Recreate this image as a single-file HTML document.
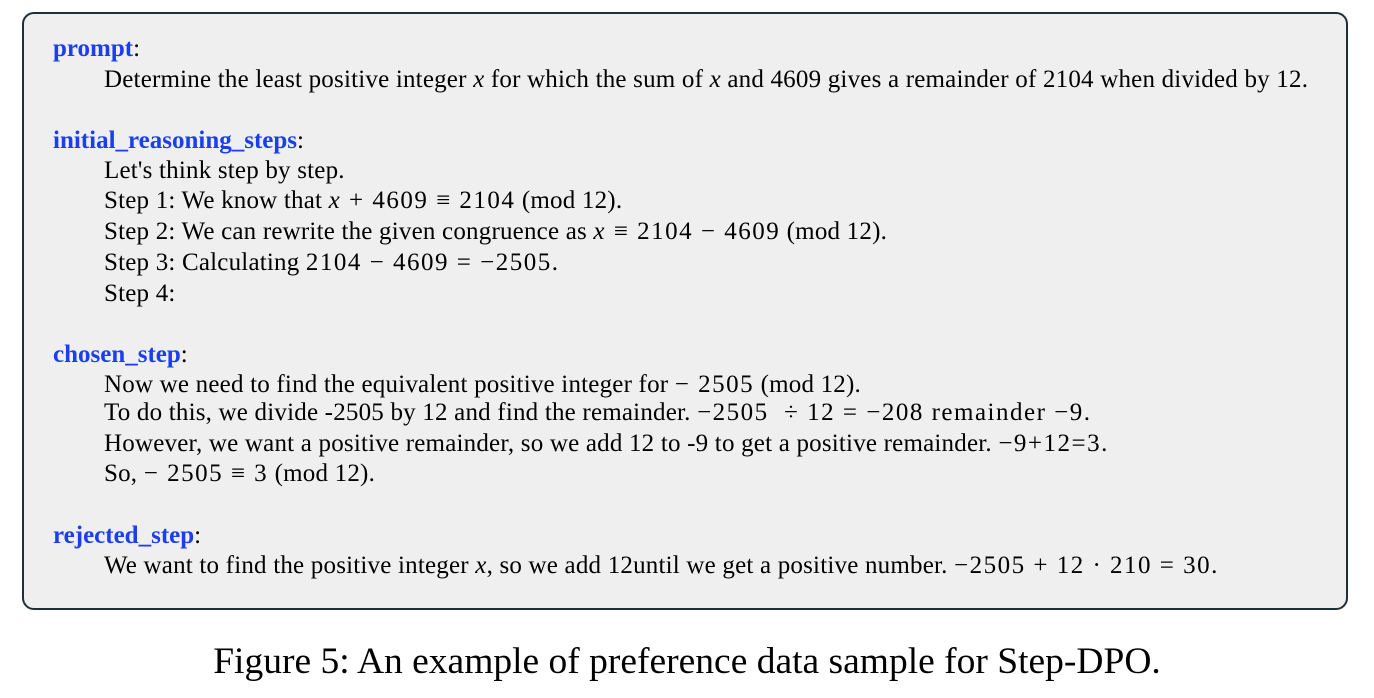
<!DOCTYPE html>
<html><head><meta charset="utf-8"><style>
body{margin:0;width:1374px;height:698px;background:#fff;position:relative;font-family:"Liberation Serif",serif;color:#000;overflow:hidden}
#box{position:absolute;left:22px;top:12px;width:1322px;height:594px;border:2px solid #1f2f3a;border-radius:12px;background:#efefef}
.l{position:absolute;font-size:25px;line-height:30px;white-space:nowrap;letter-spacing:0.2px}
.k{left:53px;color:#1a3ef0;font-weight:bold;letter-spacing:0}
.k span{color:#000;font-weight:normal}
.t{left:104px}
i{font-style:italic}
.m{letter-spacing:1.5px}
#cap{position:absolute;left:0;width:1374px;top:642px;text-align:center;font-size:37.5px;line-height:40px}
</style></head><body>
<div id="box"></div>
<div class="l k" style="top:34px">prompt<span>:</span></div>
<div class="l t" style="top:65px">Determine the least positive integer <i>x</i> for which the sum of <i>x</i> and 4609 gives a remainder of 2104 when divided by 12.</div>
<div class="l k" style="top:126px">initial_reasoning_steps<span>:</span></div>
<div class="l t" style="top:156px">Let's think step by step.</div>
<div class="l t" style="top:186px">Step 1: We know that <span class="m"><i>x</i> + 4609 ≡ 2104</span> (mod 12).</div>
<div class="l t" style="top:217px">Step 2: We can rewrite the given congruence as <span class="m"><i>x</i> ≡ 2104 − 4609</span> (mod 12).</div>
<div class="l t" style="top:248px">Step 3: Calculating <span class="m">2104 − 4609 = −2505</span>.</div>
<div class="l t" style="top:279px">Step 4:</div>
<div class="l k" style="top:340px">chosen_step<span>:</span></div>
<div class="l t" style="top:370px">Now we need to find the equivalent positive integer for <span class="m">− 2505</span> (mod 12).</div>
<div class="l t" style="top:398px">To do this, we divide -2505 by 12 and find the remainder. <span class="m">−2505 &nbsp;÷ 12 = −208 remainder −9</span>.</div>
<div class="l t" style="top:429px">However, we want a positive remainder, so we add 12 to -9 to get a positive remainder. <span class="m">−9+12=3</span>.</div>
<div class="l t" style="top:459px">So, <span class="m">− 2505 ≡ 3</span> (mod 12).</div>
<div class="l k" style="top:521px">rejected_step<span>:</span></div>
<div class="l t" style="top:551px">We want to find the positive integer <i>x</i>, so we add 12until we get a positive number. <span class="m">−2505 + 12 · 210 = 30</span>.</div>
<div id="cap">Figure 5: An example of preference data sample for Step-DPO.</div>
</body></html>
